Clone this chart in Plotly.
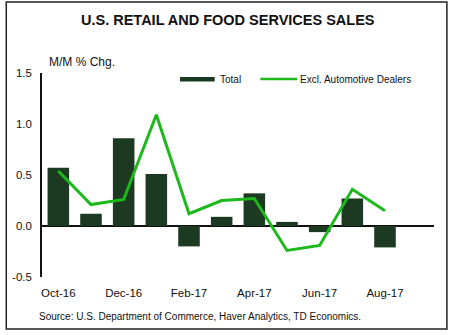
import plotly.graph_objects as go

# Monthly change in U.S. retail and food services sales, % m/m
months = ["Oct-16", "Nov-16", "Dec-16", "Jan-17", "Feb-17", "Mar-17",
          "Apr-17", "May-17", "Jun-17", "Jul-17", "Aug-17"]
total = [0.57, 0.12, 0.86, 0.51, -0.20, 0.09, 0.32, 0.04, -0.06, 0.27, -0.21]
excl_auto = [0.54, 0.21, 0.26, 1.09, 0.12, 0.25, 0.27, -0.24, -0.19, 0.36, 0.15]
tick_labels = ["Oct-16", "Dec-16", "Feb-17", "Apr-17", "Jun-17", "Aug-17"]

BAR = "#1c3a22"
LINE = "#1cb81c"
FONT = "Liberation Sans, Arial, sans-serif"

W, H = 450, 335
L, R, T, B = 39, 16, 73, 58
pw, ph = W - L - R, H - T - B


def px(x):
    return (x - L) / pw


def py(y):
    return (H - B - y) / ph


idx = list(range(len(months)))

fig = go.Figure()
fig.add_trace(go.Bar(x=idx, y=total, marker=dict(color=BAR, line=dict(width=0)),
                     width=0.66, name="Total"))
fig.add_trace(go.Scatter(x=idx, y=excl_auto, mode="lines",
                         line=dict(color=LINE, width=3), name="Excl. Automotive Dealers"))

shapes = [
    # outer frame
    dict(type="rect", xref="paper", yref="paper", x0=px(3), x1=px(447), y0=py(329), y1=py(2),
         line=dict(color="#222", width=1.5)),
    # legend keys
    dict(type="rect", xref="paper", yref="paper", x0=px(178), x1=px(213), y0=py(81.5), y1=py(77),
         fillcolor=BAR, line=dict(width=0)),
    dict(type="line", xref="paper", yref="paper", x0=px(259), x1=px(296), y0=py(79), y1=py(79),
         line=dict(color=LINE, width=2.5)),
]

annotations = [
    dict(text="<b>U.S. RETAIL AND FOOD SERVICES SALES</b>", xref="paper", yref="paper",
         x=px(226), y=py(20), xanchor="center", yanchor="middle", showarrow=False,
         font=dict(size=14.5, color="#111", family=FONT)),
    dict(text="M/M % Chg.", xref="paper", yref="paper", x=px(44), y=py(62),
         xanchor="left", yanchor="middle", showarrow=False,
         font=dict(size=12, color="#111", family=FONT)),
    dict(text="Total", xref="paper", yref="paper", x=px(216), y=py(79),
         xanchor="left", yanchor="middle", showarrow=False,
         font=dict(size=10, color="#111", family=FONT)),
    dict(text="Excl. Automotive Dealers", xref="paper", yref="paper", x=px(297), y=py(79),
         xanchor="left", yanchor="middle", showarrow=False,
         font=dict(size=10, color="#111", family=FONT)),
    dict(text="Source: U.S. Department of Commerce, Haver Analytics, TD Economics.",
         xref="paper", yref="paper", x=px(34), y=py(316),
         xanchor="left", yanchor="middle", showarrow=False,
         font=dict(size=10, color="#111", family=FONT)),
]

fig.update_layout(
    width=W, height=H,
    margin=dict(l=L, r=R, t=T, b=B),
    paper_bgcolor="white", plot_bgcolor="white",
    showlegend=False,
    bargap=0.34,
    font=dict(family=FONT, size=11, color="#111"),
    shapes=shapes,
    annotations=annotations,
    xaxis=dict(
        range=[-0.5, 11.5],
        tickmode="array",
        tickvals=[0, 2, 4, 6, 8, 10],
        ticktext=tick_labels,
        showgrid=False, zeroline=False, showline=False, ticks="",
        tickfont=dict(size=11.5),
        ticklabelstandoff=7,
    ),
    yaxis=dict(
        range=[-0.5, 1.5],
        tickvals=[-0.5, 0, 0.5, 1.0, 1.5],
        ticktext=["-0.5", "0.0", "0.5", "1.0", "1.5"],
        showgrid=False, zeroline=True, zerolinecolor="#111", zerolinewidth=1.5,
        showline=True, linecolor="#111", linewidth=1.5, ticks="",
        tickfont=dict(size=11.5),
        ticklabelstandoff=6,
    ),
)

fig.write_html("out.html")
